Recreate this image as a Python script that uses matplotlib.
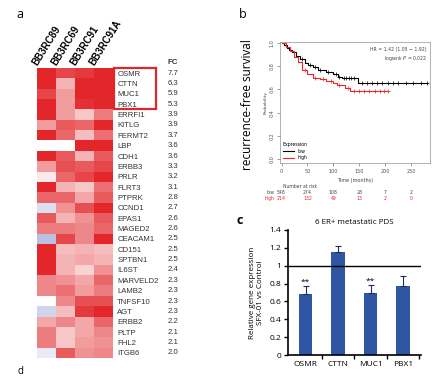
import numpy as np
import matplotlib
matplotlib.use('Agg')
import matplotlib.pyplot as plt
import matplotlib.transforms as mtransforms
from matplotlib.colors import LinearSegmentedColormap
from matplotlib.patches import Rectangle

# ---- panel a: heatmap of top up-regulated genes
samples = ['BB3RC89', 'BB3RC69', 'BB3RC91', 'BB3RC91A']
genes = ['OSMR', 'CTTN', 'MUC1', 'PBX1', 'ERRFI1', 'KITLG', 'FERMT2', 'LBP',
         'CDH1', 'ERBB3', 'PRLR', 'FLRT3', 'PTPRK', 'CCND1', 'EPAS1', 'MAGED2',
         'CEACAM1', 'CD151', 'SPTBN1', 'IL6ST', 'MARVELD2', 'LAMB2', 'TNFSF10',
         'AGT', 'ERBB2', 'PLTP', 'FHL2', 'ITGB6']
fold_change = [7.7, 6.3, 5.9, 5.3, 3.9, 3.9, 3.7, 3.6, 3.6, 3.3, 3.2, 3.1, 2.8, 2.7,
               2.6, 2.6, 2.5, 2.5, 2.5, 2.4, 2.3, 2.3, 2.3, 2.3, 2.2, 2.1, 2.1, 2.0]
heat = np.array([
    [1.00, 0.85, 0.90, 1.00],
    [1.00, 0.35, 1.00, 1.00],
    [0.85, 0.45, 1.00, 1.00],
    [1.00, 0.45, 0.95, 1.00],
    [1.00, 0.45, 0.25, 0.60],
    [0.45, 0.75, 0.70, 1.00],
    [1.00, 0.70, 0.30, 0.65],
    [0.00, 0.00, 1.00, 1.00],
    [1.00, 0.75, 0.35, 0.75],
    [0.45, 0.80, 0.75, 0.85],
    [0.10, 0.70, 0.85, 1.00],
    [1.00, 0.35, 0.25, 0.65],
    [0.70, 0.70, 0.40, 0.75],
    [-0.30, 0.50, 0.80, 1.00],
    [0.75, 0.35, 0.50, 0.75],
    [0.60, 0.60, 0.55, 0.70],
    [-0.60, 0.85, 0.55, 1.00],
    [1.00, 0.30, 0.35, 0.30],
    [1.00, 0.35, 0.40, 0.35],
    [1.00, 0.35, 0.20, 0.50],
    [0.55, 0.50, 0.40, 0.70],
    [0.55, 0.65, 0.45, 0.60],
    [0.00, 0.55, 0.80, 0.80],
    [-0.40, 0.30, 0.90, 1.00],
    [0.40, 0.55, 0.40, 0.70],
    [0.60, 0.25, 0.40, 0.55],
    [0.60, 0.25, 0.45, 0.50],
    [-0.20, 0.75, 0.50, 0.55],
])

# ---- panel b: Kaplan-Meier
low_t = [0, 5, 10, 15, 20, 27, 35, 45, 52, 60, 70, 85, 100, 110, 117, 148, 281]
low_s = [1.0, 0.98, 0.96, 0.94, 0.92, 0.885, 0.86, 0.83, 0.81, 0.79, 0.77, 0.75,
         0.73, 0.71, 0.70, 0.66, 0.66]
high_t = [0, 8, 17, 25, 31, 40, 50, 60, 75, 85, 100, 108, 123, 133, 205]
high_s = [1.0, 0.97, 0.93, 0.88, 0.84, 0.77, 0.73, 0.70, 0.69, 0.675, 0.655, 0.64,
          0.61, 0.586, 0.586]
low_cens = [40, 55, 65, 75, 90, 105, 112, 120, 125, 130, 135, 140, 155, 165, 175,
            185, 195, 205, 215, 225, 240, 255, 270, 281]
high_cens = [45, 65, 80, 95, 112, 128, 140, 150, 160, 170, 180, 190, 198, 205]
risk_times = [0, 50, 100, 150, 200, 250]
risk_low = [548, 274, 108, 28, 7, 2]
risk_high = [214, 132, 49, 13, 2, 0]

# ---- panel c: qPCR
qpcr_genes = ['OSMR', 'CTTN', 'MUC1', 'PBX1']
qpcr_mean = [0.68, 1.15, 0.70, 0.77]
qpcr_err = [0.09, 0.07, 0.08, 0.12]
qpcr_sig = ['**', '', '**', '']

W, H = 446, 378
fig = plt.figure(figsize=(W / 100, H / 100), dpi=100)


def box(l, t, r, b):
    return [l / W, 1 - b / H, (r - l) / W, (b - t) / H]


# ---------------- a
axa = fig.add_axes(box(37, 68, 113, 358))
cmap = LinearSegmentedColormap.from_list('bwr_', ['#8f98cf', '#ffffff', '#e2262a'])
axa.imshow(heat, cmap=cmap, vmin=-1, vmax=1, aspect='auto', interpolation='nearest')
for s in axa.spines.values():
    s.set_visible(False)
axa.set_xticks([])
axa.yaxis.tick_right()
axa.set_yticks(range(len(genes)))
axa.set_yticklabels(genes, fontsize=5.6, color='#333333', family='Liberation Sans')
axa.tick_params(axis='y', length=0, pad=3)
for j, name in enumerate(samples):
    axa.text(j - 0.4, -0.6, name, rotation=58, ha='left', va='bottom',
             rotation_mode='anchor', fontsize=7, fontweight='bold',
             family='Liberation Sans')
trans = mtransforms.blended_transform_factory(axa.transAxes, axa.transData)
fc_x = (168 - 37) / (113 - 37)
for i, fc in enumerate(fold_change):
    axa.text(fc_x, i, '%.1f' % fc, transform=trans, ha='left', va='center',
             fontsize=5.6, color='#333333', family='Liberation Sans')
axa.text(fc_x, -1.0, 'FC', transform=trans, ha='left', va='center', fontsize=5.6,
         fontweight='bold', color='#333333', family='Liberation Sans')
fig.add_artist(Rectangle((114 / W, 1 - 109 / H), 42 / W, 41 / H, fill=False,
                         ec='#e0262b', lw=1.6, transform=fig.transFigure))

# ---------------- b
axb = fig.add_axes(box(280, 42, 430, 163))
low_t, low_s = np.array(low_t), np.array(low_s)
high_t, high_s = np.array(high_t), np.array(high_s)
axb.step(low_t, low_s, where='post', color='black', lw=0.8, label='low')
axb.step(high_t, high_s, where='post', color='#e8262b', lw=0.8, label='high')
lc = np.array(low_cens)
hc = np.array(high_cens)
axb.plot(lc, low_s[np.searchsorted(low_t, lc, side='right') - 1], '+', color='black',
         ms=2.5, mew=0.5)
axb.plot(hc, high_s[np.searchsorted(high_t, hc, side='right') - 1], '+',
         color='#e8262b', ms=2.5, mew=0.5)
axb.set_xlim(-3, 287)
axb.set_ylim(-0.035, 1.01)
axb.set_xticks(risk_times)
axb.set_yticks([0, 0.2, 0.4, 0.6, 0.8, 1.0])
axb.set_yticklabels(['0.0', '0.2', '0.4', '0.6', '0.8', '1.0'], rotation=90,
                    va='center')
axb.tick_params(labelsize=3.5, length=2, width=0.4, colors='#555555', pad=2)
for s in axb.spines.values():
    s.set_linewidth(0.4)
    s.set_color('#777777')
axb.set_xlabel('Time (months)', fontsize=3.5, color='#444444', labelpad=3)
axb.set_ylabel('Probability', fontsize=3.2, color='#444444', labelpad=1)
axb.text(0.98, 0.96, 'HR = 1.42 (1.05 \u2212 1.92)\nlogrank $P$ = 0.022',
         transform=axb.transAxes, ha='right', va='top', fontsize=3.3,
         color='#444444', linespacing=1.3)
leg = axb.legend(title='Expression', loc='lower left', frameon=False, fontsize=3.3,
                 title_fontsize=3.3, handlelength=2.5, borderaxespad=0.2,
                 labelspacing=0.3)
leg._legend_box.align = 'left'
tr_b = mtransforms.blended_transform_factory(axb.transData, axb.transAxes)
axb.text(35, -0.21, 'Number at risk', transform=tr_b, ha='center', fontsize=3.3,
         color='#444444')
axb.text(-14, -0.255, 'low', transform=tr_b, ha='right', fontsize=3.3,
         color='#444444')
axb.text(-14, -0.305, 'high', transform=tr_b, ha='right', fontsize=3.3,
         color='#e8262b')
for x, nl, nh in zip(risk_times, risk_low, risk_high):
    axb.text(x, -0.255, str(nl), transform=tr_b, ha='center', fontsize=3.3,
             color='#444444')
    axb.text(x, -0.305, str(nh), transform=tr_b, ha='center', fontsize=3.3,
             color='#e8262b')
fig.text(247 / W, 1 - 105 / H, 'recurrence-free survival', rotation=90,
         ha='center', va='center', fontsize=8.5, family='Open Sans')

# ---------------- c
axc = fig.add_axes(box(288, 230, 421, 355))
x = np.arange(len(qpcr_genes))
axc.bar(x, qpcr_mean, width=0.42, color='#2f56a3',
        yerr=[np.zeros(len(x)), qpcr_err], capsize=2.5,
        error_kw=dict(elinewidth=0.8, capthick=0.8, ecolor='#1d2f5a'))
for xi, m, e, sg in zip(x, qpcr_mean, qpcr_err, qpcr_sig):
    if sg:
        axc.text(xi, m + e + 0.01, sg, ha='center', va='bottom', fontsize=6,
                 family='Open Sans')
axc.axhline(1, color='black', lw=1)
axc.set_xlim(-0.54, 3.55)
axc.set_ylim(0, 1.4)
axc.set_yticks(np.arange(0, 1.41, 0.2))
axc.set_yticklabels(['0', '0.2', '0.4', '0.6', '0.8', '1', '1.2', '1.4'])
axc.set_xticks(x)
axc.set_xticklabels(qpcr_genes)
axc.set_xticks([0.5, 1.5, 2.5, 3.5], minor=True)
axc.tick_params(axis='x', which='major', length=0, pad=4)
axc.tick_params(axis='x', which='minor', length=3, width=1)
axc.tick_params(axis='y', length=3, width=1, pad=2)
for lab in axc.get_xticklabels() + axc.get_yticklabels():
    lab.set_fontsize(6)
    lab.set_family('Open Sans')
for side in ['top', 'right']:
    axc.spines[side].set_visible(False)
for side in ['left', 'bottom']:
    axc.spines[side].set_linewidth(1.2)
axc.set_ylabel('Relative gene expression\nSFX-01 vs Control', fontsize=5.8,
               family='Open Sans', labelpad=4, linespacing=1.2)
axc.set_title('6 ER+ metastatic PDS', fontsize=5.8, family='Open Sans', pad=4)

# panel letters
fig.text(20 / W, 1 - 15 / H, 'a', fontsize=9, ha='center', va='center',
         family='Open Sans')
fig.text(243 / W, 1 - 15 / H, 'b', fontsize=9, ha='center', va='center',
         family='Open Sans')
fig.text(240 / W, 1 - 220 / H, 'c', fontsize=9, ha='center', va='center',
         family='Open Sans', fontweight='bold')
fig.text(20 / W, 1 / H, 'd', fontsize=7, ha='center', va='bottom',
         family='Open Sans')

fig.savefig('out.png', dpi=100)
